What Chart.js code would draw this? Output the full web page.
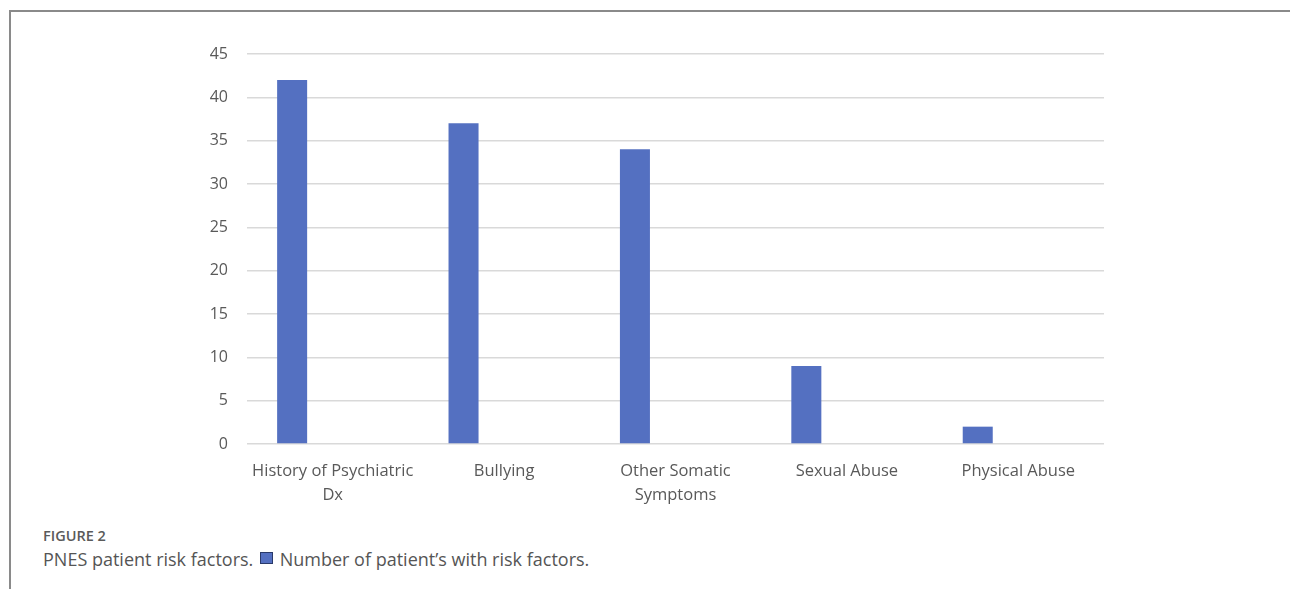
<!DOCTYPE html>
<html>
<head>
<meta charset="utf-8">
<script src="https://cdn.jsdelivr.net/npm/chart.js@4"></script>
<style>
  html, body { margin: 0; padding: 0; background: #fff; }
  body { width: 1290px; height: 589px; position: relative; overflow: hidden; font-family: "Open Sans", sans-serif; }
  #frame { position: absolute; left: 9px; top: 10px; right: 0; bottom: 0; border-left: 2px solid #8a8a8a; border-top: 2px solid #8a8a8a; }
  #chartBox { position: absolute; left: 0; top: 0; width: 1290px; height: 515px; }
  #caption { position: absolute; left: 43px; top: 526px; color: #555; }
  #caption .fig { font-size: 14.5px; font-weight: 600; line-height: 20px; color: #5a5a5a; }
  #caption .txt { font-size: 18px; line-height: 27px; }
  #caption .key { display: inline-block; width: 11px; height: 10px; background: #5470C1; border: 1px solid #2a3a6a; vertical-align: 2px; margin: 0 2px; }
</style>
</head>
<body>
<div id="frame"></div>
<div id="chartBox"><canvas id="riskChart"></canvas></div>
<div id="caption">
  <div class="fig">FIGURE 2</div>
  <div class="txt">PNES patient risk factors. <span class="key"></span> Number of patient’s with risk factors.</div>
</div>
<script>
    // categories and values
    const riskLabels = [
        ['History of Psychiatric', 'Dx'],
        'Bullying',
        ['Other Somatic', 'Symptoms'],
        'Sexual Abuse',
        'Physical Abuse'
    ];
    const patientCounts = [42, 37, 34, 9, 2];
    // Excel source had two empty series next to the real one
    const emptySeriesA = [null, null, null, null, null];
    const emptySeriesB = [null, null, null, null, null];
    const yTicks = [0, 5, 10, 15, 20, 25, 30, 35, 40, 45];

    const barBlue = '#5470C1';
    const axisText = '#595959';

    new Chart(document.getElementById('riskChart'), {
        type: 'bar',
        data: {
            labels: riskLabels,
            datasets: [
                { label: 'Number of patient’s with risk factors', data: patientCounts, backgroundColor: barBlue, categoryPercentage: 0.71, barPercentage: 0.74 },
                { label: '', data: emptySeriesA, backgroundColor: barBlue, categoryPercentage: 0.71, barPercentage: 0.74 },
                { label: '', data: emptySeriesB, backgroundColor: barBlue, categoryPercentage: 0.71, barPercentage: 0.74 }
            ]
        },
        options: {
            responsive: true,
            maintainAspectRatio: false,
            animation: false,
            layout: { padding: { left: 205, right: 186, top: 54, bottom: 0 } },
            plugins: {
                legend: { display: false },
                tooltip: { enabled: false }
            },
            scales: {
                x: {
                    grid: { display: false },
                    border: { display: false },
                    afterFit: (axis) => { axis.height = 71; },
                    ticks: {
                        color: axisText,
                        font: { family: 'Open Sans', size: 16.5, lineHeight: 1.42 },
                        maxRotation: 0,
                        autoSkip: false,
                        padding: 8
                    }
                },
                y: {
                    min: 0,
                    max: 45,
                    afterBuildTicks: (axis) => { axis.ticks = yTicks.map(v => ({ value: v })); },
                    afterFit: (axis) => { axis.width = 42; },
                    grid: { color: '#d9d9d9', lineWidth: 1.5, drawTicks: false },
                    border: { display: false },
                    ticks: {
                        color: axisText,
                        font: { family: 'Open Sans', size: 16 },
                        padding: 19
                    }
                }
            }
        }
    });
</script>
</body>
</html>
